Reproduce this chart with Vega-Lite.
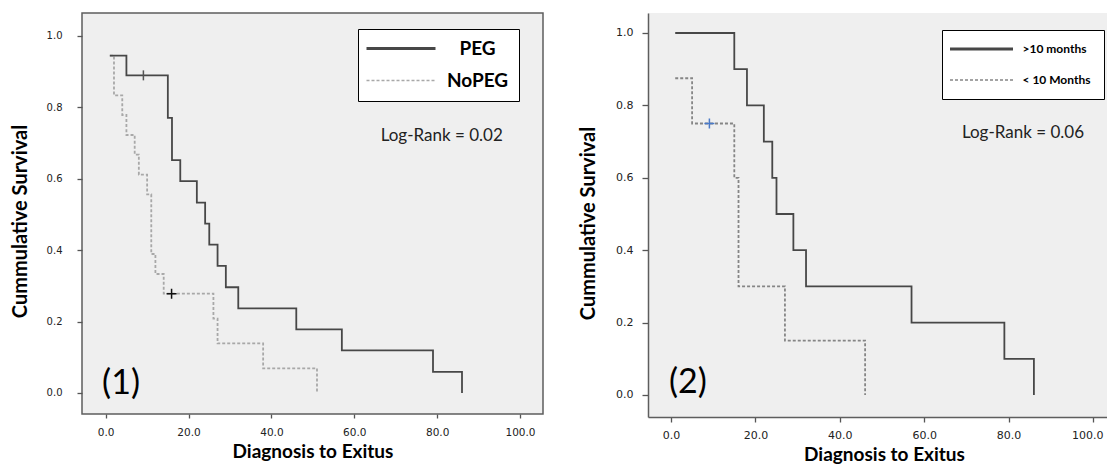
{
  "$schema": "https://vega.github.io/schema/vega-lite/v6.json",
  "background": "white",
  "padding": {"left": 9, "top": 12, "right": 0, "bottom": 0},
  "bounds": "flush",
  "spacing": 105,
  "resolve": {"scale": {"color": "independent", "strokeDash": "independent"}, "legend": {"color": "independent", "strokeDash": "independent"}},
  "config": {
    "view": {"fill": "#efefef", "stroke": "#5e5e5e", "strokeWidth": 1.5},
    "axis": {"labelFont": "DejaVu Sans", "labelColor": "#222222", "titleFont": "Lato", "titleFontWeight": "bold", "titleColor": "#000000", "grid": false, "tickColor": "#555555", "tickWidth": 1.3, "domainColor": "#5e5e5e", "domainWidth": 1.5},
    "text": {"font": "Lato"}
  },
  "datasets": {
    "km1": [
      {"group": "NoPEG", "t": 1, "s": 0.944}, {"group": "NoPEG", "t": 2, "s": 0.833}, {"group": "NoPEG", "t": 4, "s": 0.778},
      {"group": "NoPEG", "t": 5, "s": 0.722}, {"group": "NoPEG", "t": 7, "s": 0.667}, {"group": "NoPEG", "t": 8, "s": 0.611},
      {"group": "NoPEG", "t": 10, "s": 0.556}, {"group": "NoPEG", "t": 11, "s": 0.389}, {"group": "NoPEG", "t": 12, "s": 0.333},
      {"group": "NoPEG", "t": 14, "s": 0.278}, {"group": "NoPEG", "t": 26, "s": 0.208}, {"group": "NoPEG", "t": 27, "s": 0.139},
      {"group": "NoPEG", "t": 38, "s": 0.069}, {"group": "NoPEG", "t": 51, "s": 0},
      {"group": "PEG", "t": 1, "s": 0.944}, {"group": "PEG", "t": 5, "s": 0.889}, {"group": "PEG", "t": 15, "s": 0.770},
      {"group": "PEG", "t": 16, "s": 0.652}, {"group": "PEG", "t": 18, "s": 0.593}, {"group": "PEG", "t": 22, "s": 0.533},
      {"group": "PEG", "t": 24, "s": 0.474}, {"group": "PEG", "t": 25, "s": 0.415}, {"group": "PEG", "t": 27, "s": 0.356},
      {"group": "PEG", "t": 29, "s": 0.296}, {"group": "PEG", "t": 32, "s": 0.237}, {"group": "PEG", "t": 46, "s": 0.178},
      {"group": "PEG", "t": 57, "s": 0.119}, {"group": "PEG", "t": 79, "s": 0.059}, {"group": "PEG", "t": 86, "s": 0}
    ],
    "cens1": [
      {"group": "PEG", "t": 9.1, "s": 0.889},
      {"group": "NoPEG", "t": 15.9, "s": 0.278}
    ],
    "km2": [
      {"group": "< 10 Months", "t": 1, "s": 0.875}, {"group": "< 10 Months", "t": 5, "s": 0.75}, {"group": "< 10 Months", "t": 15, "s": 0.6},
      {"group": "< 10 Months", "t": 16, "s": 0.3}, {"group": "< 10 Months", "t": 27, "s": 0.15}, {"group": "< 10 Months", "t": 46, "s": 0},
      {"group": ">10 months", "t": 1, "s": 1.0}, {"group": ">10 months", "t": 15, "s": 0.9}, {"group": ">10 months", "t": 18, "s": 0.8},
      {"group": ">10 months", "t": 22, "s": 0.7}, {"group": ">10 months", "t": 24, "s": 0.6}, {"group": ">10 months", "t": 25, "s": 0.5},
      {"group": ">10 months", "t": 29, "s": 0.4}, {"group": ">10 months", "t": 32, "s": 0.3}, {"group": ">10 months", "t": 57, "s": 0.2},
      {"group": ">10 months", "t": 79, "s": 0.1}, {"group": ">10 months", "t": 86, "s": 0}
    ],
    "cens2": [
      {"group": "< 10 Months", "t": 9.1, "s": 0.75}
    ],
    "notes1": [{"stat": "Log-Rank = 0.02", "panel": "(1)"}],
    "notes2": [{"stat": "Log-Rank = 0.06", "panel": "(2)"}]
  },
  "hconcat": [
    {
      "width": 461,
      "height": 401,
      "layer": [
        {
          "data": {"name": "km1"},
          "mark": {"type": "line", "interpolate": "step-after", "strokeWidth": 1.8},
          "encoding": {
            "x": {"field": "t", "type": "quantitative", "title": "Diagnosis to Exitus",
              "scale": {"domain": [-5.72, 105.55], "nice": false, "zero": false},
              "axis": {"values": [0, 20, 40, 60, 80, 100], "format": ".1f", "domain": false, "tickSize": 4, "labelFontSize": 10.5, "labelPadding": 9, "titleFontSize": 19, "titleBaseline": "middle", "titleY": 37}},
            "y": {"field": "s", "type": "quantitative", "title": "Cummulative Survival",
              "scale": {"domain": [-0.0588, 1.0635], "nice": false, "zero": false},
              "axis": {"values": [0, 0.2, 0.4, 0.6, 0.8, 1.0], "format": ".1f", "domain": false, "tickSize": 5, "labelFontSize": 10, "labelPadding": 15, "titleFontSize": 20, "titleAngle": -90, "titleBaseline": "middle", "titleAlign": "center", "titleX": -62, "titleY": 208}},
            "color": {"field": "group", "type": "nominal",
              "scale": {"domain": ["PEG", "NoPEG"], "range": ["#474747", "#a8a8a8"]},
              "legend": {"title": null, "orient": "none", "legendX": 276, "legendY": 16, "fillColor": "#ffffff", "strokeColor": "#000000", "padding": 10,
                "symbolType": "M-3.45,0L3.45,0", "symbolSize": 400, "symbolStrokeWidth": 1.5, "symbolOffset": 23.5,
                "labelFont": "Lato", "labelFontSize": 19, "labelFontWeight": "bold", "labelColor": "#000000", "labelAlign": "center", "labelOffset": 67, "rowPadding": 12,
                "encode": {"symbols": {"update": {"strokeWidth": {"signal": "datum.value === 'PEG' ? 3 : 1.5"}}}}}},
            "strokeDash": {"field": "group", "type": "nominal",
              "scale": {"domain": ["PEG", "NoPEG"], "range": [[1, 0], [3, 2]]},
              "legend": {"title": null, "orient": "none", "legendX": 276, "legendY": 16, "fillColor": "#ffffff", "strokeColor": "#000000", "padding": 10,
                "symbolType": "M-3.45,0L3.45,0", "symbolSize": 400, "symbolStrokeWidth": 1.5, "symbolOffset": 23.5,
                "labelFont": "Lato", "labelFontSize": 19, "labelFontWeight": "bold", "labelColor": "#000000", "labelAlign": "center", "labelOffset": 67, "rowPadding": 12,
                "encode": {"symbols": {"update": {"strokeWidth": {"signal": "datum.value === 'PEG' ? 3 : 1.5"}}}}}}
          }
        },
        {
          "data": {"name": "cens1"},
          "transform": [{"filter": "datum.group === 'PEG'"}],
          "mark": {"type": "point", "shape": "M0,-1L0,1", "size": 100, "filled": false, "strokeWidth": 1.5, "color": "#555555", "opacity": 1},
          "encoding": {"x": {"field": "t", "type": "quantitative"}, "y": {"field": "s", "type": "quantitative"}}
        },
        {
          "data": {"name": "cens1"},
          "transform": [{"filter": "datum.group === 'NoPEG'"}],
          "mark": {"type": "point", "shape": "M-1,0L1,0M0,-1L0,1", "size": 100, "filled": false, "strokeWidth": 1.5, "color": "#111111", "opacity": 1},
          "encoding": {"x": {"field": "t", "type": "quantitative"}, "y": {"field": "s", "type": "quantitative"}}
        },
        {
          "data": {"name": "notes1"},
          "mark": {"type": "text", "fontSize": 17, "font": "Lato", "color": "#222222", "align": "center", "baseline": "middle"},
          "encoding": {"text": {"field": "stat"}, "x": {"datum": 81.1}, "y": {"datum": 0.719}}
        },
        {
          "data": {"name": "notes1"},
          "mark": {"type": "text", "fontSize": 34, "font": "Lato", "color": "#000000", "align": "center", "baseline": "middle"},
          "encoding": {"text": {"field": "panel"}, "x": {"datum": 3.7}, "y": {"datum": 0.025}}
        }
      ]
    },
    {
      "width": 459,
      "height": 404,
      "view": {"fill": "#efefef", "stroke": null},
      "layer": [
        {
          "mark": {"type": "rule", "color": "#5e5e5e", "strokeWidth": 1.5},
          "encoding": {"y": {"datum": 1.0552}}
        },
        {
          "data": {"name": "km2"},
          "mark": {"type": "line", "interpolate": "step-after", "strokeWidth": 1.8},
          "encoding": {
            "x": {"field": "t", "type": "quantitative", "title": "Diagnosis to Exitus",
              "scale": {"domain": [-5.45, 103.32], "nice": false, "zero": false},
              "axis": {"values": [0, 20, 40, 60, 80, 100], "format": ".1f", "tickSize": 5, "labelFontSize": 11, "labelPadding": 7, "labelFlush": 15, "labelFlushOffset": 10, "titleFontSize": 19, "titleBaseline": "middle", "titleX": 236, "titleY": 37}},
            "y": {"field": "s", "type": "quantitative", "title": "Cummulative Survival",
              "scale": {"domain": [-0.0608, 1.0552], "nice": false, "zero": false},
              "axis": {"values": [0, 0.2, 0.4, 0.6, 0.8, 1.0], "format": ".1f", "tickSize": 6, "labelFontSize": 11, "labelPadding": 9, "titleFontSize": 20, "titleAngle": -90, "titleBaseline": "middle", "titleAlign": "center", "titleX": -60, "titleY": 210}},
            "color": {"field": "group", "type": "nominal",
              "scale": {"domain": [">10 months", "< 10 Months"], "range": ["#474747", "#858585"]},
              "legend": {"title": null, "orient": "none", "legendX": 294, "legendY": 17, "fillColor": "#ffffff", "strokeColor": "#000000", "padding": 13,
                "symbolType": "M-3.15,0L3.15,0", "symbolSize": 400, "symbolStrokeWidth": 1.5, "symbolOffset": 20.5,
                "labelFont": "Lato", "labelFontSize": 12, "labelFontWeight": "bold", "labelColor": "#000000", "labelAlign": "left", "labelOffset": 35, "rowPadding": 19,
                "encode": {"symbols": {"update": {"strokeWidth": {"signal": "datum.value === '>10 months' ? 3 : 1.5"}}}}}},
            "strokeDash": {"field": "group", "type": "nominal",
              "scale": {"domain": [">10 months", "< 10 Months"], "range": [[1, 0], [3, 2]]},
              "legend": {"title": null, "orient": "none", "legendX": 294, "legendY": 17, "fillColor": "#ffffff", "strokeColor": "#000000", "padding": 13,
                "symbolType": "M-3.15,0L3.15,0", "symbolSize": 400, "symbolStrokeWidth": 1.5, "symbolOffset": 20.5,
                "labelFont": "Lato", "labelFontSize": 12, "labelFontWeight": "bold", "labelColor": "#000000", "labelAlign": "left", "labelOffset": 35, "rowPadding": 19,
                "encode": {"symbols": {"update": {"strokeWidth": {"signal": "datum.value === '>10 months' ? 3 : 1.5"}}}}}}
          }
        },
        {
          "data": {"name": "cens2"},
          "mark": {"type": "point", "shape": "M-1,0L1,0M0,-1L0,1", "size": 100, "filled": false, "strokeWidth": 1.5, "color": "#4a7ac8", "opacity": 1},
          "encoding": {"x": {"field": "t", "type": "quantitative"}, "y": {"field": "s", "type": "quantitative"}}
        },
        {
          "data": {"name": "notes2"},
          "mark": {"type": "text", "fontSize": 17, "font": "Lato", "color": "#222222", "align": "center", "baseline": "middle"},
          "encoding": {"text": {"field": "stat"}, "x": {"datum": 83.4}, "y": {"datum": 0.7246}}
        },
        {
          "data": {"name": "notes2"},
          "mark": {"type": "text", "fontSize": 34, "font": "Lato", "color": "#000000", "align": "center", "baseline": "middle"},
          "encoding": {"text": {"field": "panel"}, "x": {"datum": 4.0}, "y": {"datum": 0.033}}
        }
      ]
    }
  ]
}
